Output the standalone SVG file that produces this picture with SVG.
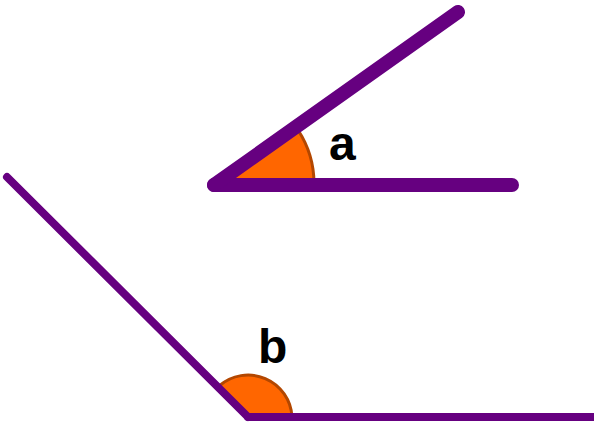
<svg xmlns="http://www.w3.org/2000/svg" width="594" height="423" viewBox="0 0 594 423">
<style>
.ray{stroke:#660080;stroke-linecap:round;fill:none}
.wedge{fill:#FF6600;stroke:#B34700;stroke-width:3}
.lbl{font-family:"Liberation Sans",Arial,sans-serif;font-weight:bold;font-size:48px;fill:#000}
</style>
<rect width="594" height="423" fill="#fff"/>
<g id="angle-a">
<path class="wedge" d="M216,185 L298,130 A98,98 0 0 1 314,185 Z"/>
<g class="connectors">
<line class="ray" x1="214" y1="185" x2="512" y2="185" stroke-width="14"/>
<line class="ray" x1="214" y1="185" x2="458" y2="12" stroke-width="14"/>
</g>
<text class="lbl" x="329" y="160">a</text>
</g>
<g id="angle-b">
<path class="wedge" d="M248,417 L219,386 A44,44 0 0 1 292,417 Z"/>
<line class="ray" x1="248" y1="417" x2="600" y2="417" stroke-width="8" stroke-linecap="butt"/>
<line class="ray" x1="248" y1="417" x2="7" y2="177" stroke-width="8"/>
<text class="lbl" x="258" y="363">b</text>
</g>
</svg>
